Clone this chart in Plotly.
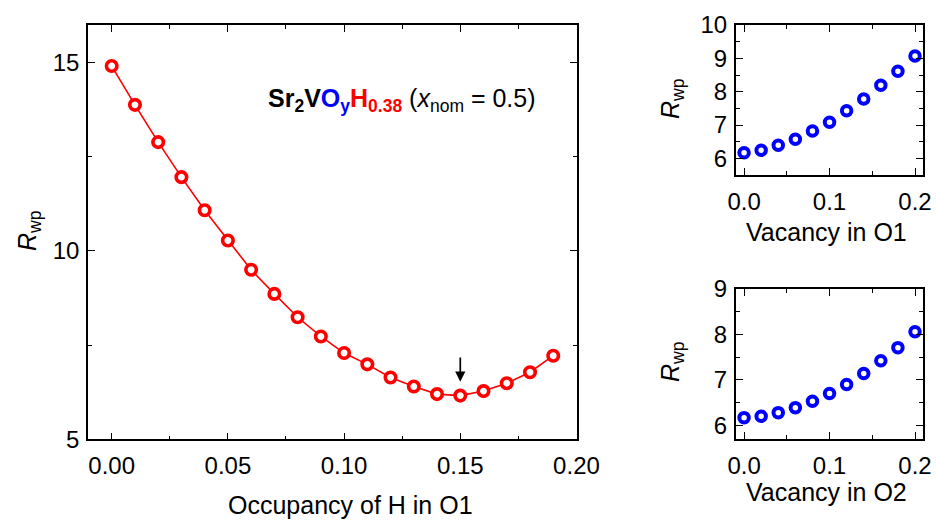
import plotly.graph_objects as go

# ---- data ----
h_occupancy = [0.00, 0.01, 0.02, 0.03, 0.04, 0.05, 0.06, 0.07, 0.08, 0.09,
               0.10, 0.11, 0.12, 0.13, 0.14, 0.15, 0.16, 0.17, 0.18, 0.19]
rwp_h = [14.91, 13.88, 12.89, 11.96, 11.08, 10.28, 9.50, 8.86, 8.24, 7.73,
         7.29, 6.99, 6.64, 6.40, 6.20, 6.16, 6.28, 6.49, 6.78, 7.22]

vacancy = [0.00, 0.02, 0.04, 0.06, 0.08, 0.10, 0.12, 0.14, 0.16, 0.18, 0.20]
rwp_o1 = [6.17, 6.24, 6.39, 6.57, 6.82, 7.08, 7.43, 7.78, 8.19, 8.61, 9.07]
rwp_o2 = [6.17, 6.20, 6.28, 6.39, 6.53, 6.70, 6.90, 7.14, 7.42, 7.71, 8.06]

best_x = 0.15
best_rwp = 6.16

main_xticks = [0.00, 0.05, 0.10, 0.15, 0.20]
main_yticks = [5, 10, 15]
side_xticks = [0.0, 0.1, 0.2]
o1_yticks = [6, 7, 8, 9, 10]
o2_yticks = [6, 7, 8, 9]

W, H = 936, 520
FONT = "Liberation Sans, Arial, sans-serif"
RED = "#ff0000"
BLUE = "#0000ff"


def px(x):
    return x / W


def py(y):
    return 1 - y / H


fig = go.Figure()

fig.add_trace(go.Scatter(
    x=h_occupancy, y=rwp_h, mode="lines+markers",
    line=dict(color=RED, width=1.6),
    marker=dict(symbol="circle", size=10.5, color="white",
                line=dict(color=RED, width=3.6)),
    xaxis="x", yaxis="y", showlegend=False))

fig.add_trace(go.Scatter(
    x=vacancy, y=rwp_o1, mode="markers",
    marker=dict(symbol="circle", size=9.5, color="white",
                line=dict(color=BLUE, width=4)),
    xaxis="x2", yaxis="y2", showlegend=False))

fig.add_trace(go.Scatter(
    x=vacancy, y=rwp_o2, mode="markers",
    marker=dict(symbol="circle", size=9.5, color="white",
                line=dict(color=BLUE, width=4)),
    xaxis="x3", yaxis="y3", showlegend=False))


def minor(step, start=0):
    return dict(ticks="inside", ticklen=4, tickwidth=1.2, tickcolor="black",
                dtick=step, tick0=start, showgrid=False)


def axis_style(is_x, **kw):
    d = dict(
        showline=True, linecolor="black", linewidth=1.6, mirror="allticks",
        ticks="inside", ticklen=7, tickwidth=1.4, tickcolor="black",
        showgrid=False, zeroline=False,
        ticklabelstandoff=4 if is_x else 2,
        tickfont=dict(family=FONT, size=24, color="black"),
    )
    d.update(kw)
    return d


fig.update_layout(
    width=W, height=H,
    margin=dict(l=0, r=0, t=0, b=0, autoexpand=False),
    paper_bgcolor="white", plot_bgcolor="white",
    font=dict(family=FONT, color="black"),
    xaxis=axis_style(True, domain=[px(88), px(576.7)], range=[-0.0102, 0.2001],
                     tickvals=main_xticks, tickformat=".2f", anchor="y",
                     minor=minor(0.025, 0.025)),
    yaxis=axis_style(False, domain=[py(439.3), py(25)], range=[5, 16],
                     tickvals=main_yticks, anchor="x", minor=minor(2.5)),
    xaxis2=axis_style(True, domain=[px(735.7), px(922.7)], range=[-0.0098, 0.209],
                      tickvals=side_xticks, tickformat=".1f", anchor="y2",
                      minor=minor(0.05)),
    yaxis2=axis_style(False, domain=[py(175), py(25)], range=[5.5, 10],
                      tickvals=o1_yticks, anchor="x2", minor=minor(0.5)),
    xaxis3=axis_style(True, domain=[px(735.7), px(922.7)], range=[-0.0098, 0.209],
                      tickvals=side_xticks, tickformat=".1f", anchor="y3",
                      minor=minor(0.05)),
    yaxis3=axis_style(False, domain=[py(439), py(289)], range=[5.7, 9],
                      tickvals=o2_yticks, anchor="x3", minor=minor(0.5)),
)

title_font = dict(family=FONT, size=25, color="black")
rwp_label = "<i>R</i><sub>wp</sub>"

annotations = [
    # axis titles
    dict(x=px(350), y=py(505), text="Occupancy of H in O1"),
    dict(x=px(29), y=py(231), text=rwp_label, textangle=-90),
    dict(x=px(826), y=py(232), text="Vacancy in O1"),
    dict(x=px(672), y=py(99), text=rwp_label, textangle=-90),
    dict(x=px(826), y=py(492), text="Vacancy in O2"),
    dict(x=px(672), y=py(362), text=rwp_label, textangle=-90),
    # compound label
    dict(x=px(402), y=py(100),
         text=("<b>Sr<sub>2</sub>V<span style='color:#0000ff'>O<sub>y</sub></span>"
               "<span style='color:#ff0000'>H<sub>0.38</sub></span></b>"
               " (<i>x</i><sub>nom</sub> = 0.5)"),
         font=dict(family=FONT, size=25, color="black")),
]
for a in annotations:
    a.setdefault("font", title_font)
    fig.add_annotation(xref="paper", yref="paper", xanchor="center",
                       yanchor="middle", showarrow=False, **a)

# arrow marking the minimum
fig.add_annotation(x=best_x, y=best_rwp + 0.37, ax=best_x, ay=best_rwp + 1.05,
                   xref="x", yref="y", axref="x", ayref="y", text="",
                   showarrow=True, arrowhead=2, arrowsize=1.2, arrowwidth=1.7,
                   arrowcolor="black")

# the figure is sized to the page, so drop the default body margin
fig.write_html(
    "out.html",
    post_script="document.body.style.margin='0';document.body.style.overflow='hidden';",
)
